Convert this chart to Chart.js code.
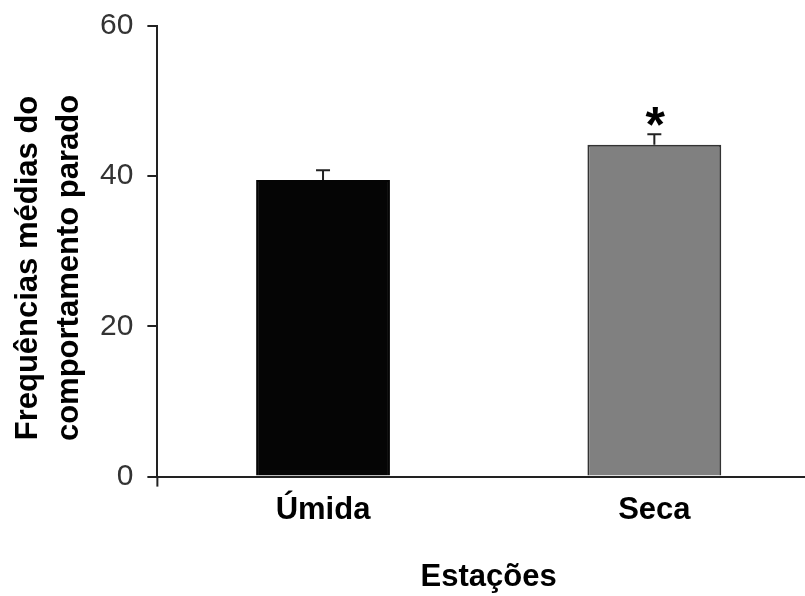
<!DOCTYPE html>
<html lang="pt">
<head>
<meta charset="utf-8">
<title>Frequências médias do comportamento parado</title>
<script src="https://cdn.jsdelivr.net/npm/chart.js@4/dist/chart.umd.min.js"></script>
<style>
  html, body { margin: 0; padding: 0; background: #fff; overflow: hidden; }
  #wrap { position: relative; width: 840px; height: 596px; }
</style>
</head>
<body>
<div id="wrap"><canvas id="chart"></canvas></div>
<script>
// season means, standard errors and significance marks
const categories = ['Úmida', 'Seca'];
const means = [39.5, 44.2];
const errors = [1.3, 1.4];
const marks = ['', '*'];
const barColors = ['#050505', '#808080'];
const yRange = [0, 60];
const yStep = 20;
const yTitle = ['Frequências médias do', 'comportamento parado'];
const xTitle = 'Estações';

const AXIS = '#222';
const FONT = 'Liberation Sans, Arial, sans-serif';

// error bars (upper half only) and the significance asterisk
const errorBars = {
  id: 'errorBars',
  afterDatasetsDraw(chart) {
    const { ctx, scales: { y } } = chart;
    const meta = chart.getDatasetMeta(0);
    ctx.save();
    ctx.strokeStyle = AXIS;
    ctx.lineWidth = 2;
    meta.data.forEach((bar, i) => {
      const top = y.getPixelForValue(means[i] + errors[i]);
      const base = y.getPixelForValue(means[i]);
      ctx.beginPath();
      ctx.moveTo(bar.x, base);
      ctx.lineTo(bar.x, top);
      ctx.moveTo(bar.x - 7, top);
      ctx.lineTo(bar.x + 7, top);
      ctx.stroke();
      if (marks[i]) {
        ctx.fillStyle = '#000';
        ctx.font = 'bold 50px ' + FONT;
        ctx.textAlign = 'center';
        ctx.textBaseline = 'alphabetic';
        ctx.fillText(marks[i], bar.x + 1, top + 8);
      }
    });
    ctx.restore();
  }
};

// y axis line runs a little past the x axis; two-line rotated y title
const axisExtras = {
  id: 'axisExtras',
  afterDraw(chart) {
    const { ctx, chartArea } = chart;
    ctx.save();
    ctx.strokeStyle = AXIS;
    ctx.lineWidth = 2;
    ctx.beginPath();
    ctx.moveTo(chartArea.left, chartArea.bottom);
    ctx.lineTo(chartArea.left, chartArea.bottom + 10);
    ctx.stroke();

    ctx.translate(37, 268);
    ctx.rotate(-Math.PI / 2);
    ctx.fillStyle = '#000';
    ctx.font = 'bold 31px ' + FONT;
    ctx.textAlign = 'center';
    ctx.textBaseline = 'alphabetic';
    yTitle.forEach((line, i) => ctx.fillText(line, 0, i * 41));
    ctx.restore();
  }
};

new Chart(document.getElementById('chart'), {
  type: 'bar',
  data: {
    labels: categories,
    datasets: [{
      data: means,
      backgroundColor: barColors,
      borderColor: ['#050505', '#333'],
      borderWidth: 2,
      barPercentage: 0.404,
      categoryPercentage: 1
    }]
  },
  options: {
    responsive: true,
    maintainAspectRatio: false,
    animation: false,
    layout: { padding: { left: 86, right: 20, top: 26, bottom: 0 } },
    plugins: { legend: { display: false }, tooltip: { enabled: false } },
    scales: {
      x: {
        grid: { drawOnChartArea: false, drawTicks: false },
        border: { color: AXIS, width: 2 },
        ticks: { padding: 15, color: '#000', font: { family: FONT, size: 31, weight: 'bold' } },
        title: {
          display: true,
          text: xTitle,
          color: '#000',
          padding: { top: 15, bottom: 0 },
          font: { family: FONT, size: 31, weight: 'bold' }
        }
      },
      y: {
        min: yRange[0],
        max: yRange[1],
        grid: { drawOnChartArea: false, drawTicks: true, tickLength: 10, color: AXIS, lineWidth: 2 },
        border: { color: AXIS, width: 2 },
        ticks: { stepSize: yStep, padding: 14, color: '#333', font: { family: FONT, size: 30, lineHeight: 0.8 } }
      }
    }
  },
  plugins: [errorBars, axisExtras]
});
</script>
</body>
</html>
